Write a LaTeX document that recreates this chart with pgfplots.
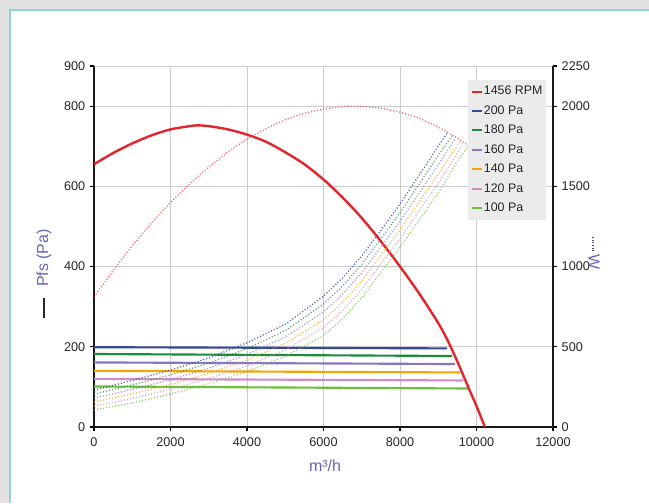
\documentclass[border=0pt]{standalone}
\usepackage{pgfplots}
\pgfplotsset{compat=1.18}
\usepackage{fontspec}
\setmainfont{Liberation Sans}
\definecolor{bggrey}{HTML}{E2E2E2}
\definecolor{panelline}{HTML}{8FD3D3}
\definecolor{gridgrey}{HTML}{CCCCCC}
\definecolor{labblue}{HTML}{6666B0}
\definecolor{cred}{HTML}{E3262E}
\definecolor{cblue}{HTML}{34489A}
\definecolor{cgreen}{HTML}{1E8A3C}
\definecolor{cpurple}{HTML}{8577C4}
\definecolor{corange}{HTML}{F5A500}
\definecolor{cpink}{HTML}{D08CC6}
\definecolor{clgreen}{HTML}{6DBE3A}
\definecolor{legfill}{HTML}{EBEBEB}
\pgfplotsset{
  common/.style={
    at={(70.5pt,57pt)}, anchor=south west, scale only axis,
    width=344.25pt, height=270.75pt,
    xmin=0, xmax=12000,
    scaled x ticks=false, scaled y ticks=false,
    /pgf/number format/assume math mode=true,
    /pgf/number format/1000 sep={},
    tick label style={font=\fontsize{9.5}{11}\selectfont, text=black!85},
    xticklabel style={yshift=-1.5pt},
    tick align=outside, major tick length=3pt,
    tick style={black, line width=0.8pt},
    axis line style={black!90, line width=1.5pt},
  },
  dotc/.style={line width=0.95pt, dash pattern=on 0.8pt off 1.5pt, opacity=0.75, #1},
  hline/.style={line width=1.6pt, #1},
}
\begin{document}
\begin{tikzpicture}
\useasboundingbox (0pt,0pt) rectangle (486.75pt,377.25pt);
\fill[bggrey] (0pt,0pt) rectangle (486.75pt,377.25pt);
\fill[white] (7.5pt,0pt) rectangle (486.75pt,369.75pt);
\draw[panelline, line width=0.8pt] (7.5pt,0pt) -- (7.5pt,369.75pt) -- (486.75pt,369.75pt);

\begin{axis}[common,
  ymin=0, ymax=900,
  axis x line*=bottom, axis y line*=left,
  xtick={0,2000,...,12000},
  ytick={0,200,400,600,800,900},
  grid=major, grid style={gridgrey, line width=0.6pt},
]
\addplot[hline=cblue] coordinates {(0,199) (9230,196)};
\addplot[hline=cgreen] coordinates {(0,182) (9360,177)};
\addplot[hline=cpurple] coordinates {(0,161) (9440,157)};
\addplot[hline=corange] coordinates {(0,140) (9570,136)};
\addplot[hline=cpink] coordinates {(0,120) (9650,116)};
\addplot[hline=clgreen] coordinates {(0,101) (9780,96)};
\addplot[cred, line width=1.8pt, smooth, tension=0.5] coordinates {
(0,655) (500,683) (1000,707) (1500,727) (2000,742) (2500,750) (2700,752) (3000,750)
(3500,742) (4000,729) (4500,711) (5000,685) (5500,655) (6000,617) (6500,572)
(7000,521) (7500,463) (8000,400) (8500,333) (9000,259) (9250,215) (9500,163)
(9750,107) (10000,52) (10220,0)};
\end{axis}

\begin{axis}[common,
  ymin=0, ymax=2250,
  axis x line=none, axis y line*=right,
  ytick={0,500,1000,1500,2000,2250},
  legend style={at={(0.815,0.961)}, anchor=north west, fill=legfill, draw=none,
    font=\fontsize{9.3}{10}\selectfont, text=black!85, row sep=4.6pt,
    inner xsep=2pt, inner ysep=3.4pt,
    nodes={inner sep=0.7pt, text height=6.8pt, text depth=1.8pt}},
  legend cell align=left,
  legend image code/.code={\draw[#1, line width=1.5pt] (0pt,0pt) -- (7.5pt,0pt);},
]
\addplot[dotc=cred, opacity=0.7, forget plot] coordinates {
(0,810) (500,975) (1000,1130) (1500,1270) (2000,1400) (2500,1515) (3000,1620)
(3500,1715) (4000,1795) (4500,1860) (5000,1915) (5500,1955) (6000,1982) (6500,1997)
(6700,2000) (7000,1998) (7500,1988) (8000,1962) (8500,1925) (9000,1870) (9500,1800)
(9750,1760) (10220,1690)};
\addplot[dotc=clgreen, forget plot] coordinates {
(0,106) (1000,150) (2000,205) (3000,270) (4000,345) (5000,440) (6000,570) (6500,675)
(7000,805) (7500,965) (8000,1120) (8500,1290) (9000,1460) (9500,1655) (9780,1750)};
\addplot[dotc=cpink, forget plot] coordinates {
(0,131) (1000,178) (2000,235) (3000,302) (4000,381) (5000,480) (6000,619) (6500,726)
(7000,857) (7500,1017) (8000,1174) (8500,1346) (9000,1518) (9650,1765)};
\addplot[dotc=corange, forget plot] coordinates {
(0,156) (1000,206) (2000,265) (3000,334) (4000,417) (5000,520) (6000,668) (6500,777)
(7000,909) (7500,1069) (8000,1228) (8500,1402) (9000,1576) (9570,1780)};
\addplot[dotc=cpurple, forget plot] coordinates {
(0,180) (1000,234) (2000,295) (3000,366) (4000,453) (5000,560) (6000,717) (6500,828)
(7000,961) (7500,1121) (8000,1282) (8500,1458) (9000,1634) (9440,1795)};
\addplot[dotc=cgreen, forget plot] coordinates {
(0,205) (1000,262) (2000,325) (3000,398) (4000,489) (5000,600) (6000,766) (6500,879)
(7000,1013) (7500,1173) (8000,1336) (8500,1514) (9000,1692) (9360,1815)};
\addplot[dotc=cblue, opacity=0.85, forget plot] coordinates {
(0,230) (1000,290) (2000,355) (3000,430) (4000,525) (5000,640) (6000,815) (6500,930)
(7000,1065) (7500,1225) (8000,1390) (8500,1570) (9000,1750) (9250,1840)};
\addlegendimage{cred}\addlegendentry{1456 RPM}
\addlegendimage{cblue}\addlegendentry{200 Pa}
\addlegendimage{cgreen}\addlegendentry{180 Pa}
\addlegendimage{cpurple}\addlegendentry{160 Pa}
\addlegendimage{corange}\addlegendentry{140 Pa}
\addlegendimage{cpink}\addlegendentry{120 Pa}
\addlegendimage{clgreen}\addlegendentry{100 Pa}
\end{axis}

% axis titles
\node[rotate=90, text=labblue, font=\fontsize{12}{13}\selectfont] at (33pt,183.75pt) {Pfs (Pa)};
\draw[black!85, line width=1.5pt] (33pt,153.75pt) -- (33pt,138.75pt);
\node[rotate=-90, text=labblue, font=\fontsize{12}{13}\selectfont] at (445.5pt,180.75pt) {W};
\draw[black!70, line width=1.2pt, dash pattern=on 0.8pt off 1.2pt] (444.75pt,199.5pt) -- (444.75pt,189pt);
\node[text=labblue, font=\fontsize{12}{13}\selectfont] at (243.75pt,27.75pt) {m³/h};
\end{tikzpicture}
\end{document}
